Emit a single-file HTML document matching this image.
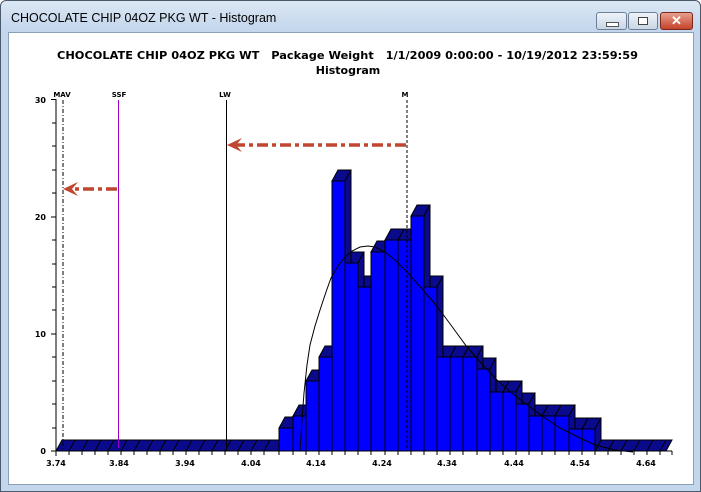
<!DOCTYPE html>
<html><head><meta charset="utf-8"><style>
body{margin:0;width:701px;height:492px;overflow:hidden;background:#fff;font-family:"Liberation Sans",sans-serif}
.win{position:absolute;left:0;top:0;width:699px;height:490px;border:1px solid #4a5a6a;border-radius:6px 6px 0 0;background:linear-gradient(#dbe7f4,#c3d6ec 30px,#c3d6ec)}
.client{position:absolute;left:7px;top:31px;width:686px;height:453px;background:#fff;border:1px solid #8aa0b8;box-sizing:border-box}
.tt{position:absolute;left:10px;top:10px;font-size:12.5px;color:#000}
.btn{position:absolute;top:11px;height:16px;border:1px solid #6d7f95;border-radius:3px;background:linear-gradient(#eef3f9,#c9d6e6)}
</style></head><body>
<div class="win">
<div class="tt">CHOCOLATE CHIP 04OZ PKG WT - Histogram</div>
<div class="btn" style="left:595px;width:29px"><div style="position:absolute;left:9px;top:9px;width:11px;height:3px;background:#fff;border:1px solid #555"></div></div>
<div class="btn" style="left:627px;width:28px"><div style="position:absolute;left:9px;top:4px;width:8px;height:6px;border:1px solid #444;background:#fff"></div></div>
<div class="btn" style="left:659px;width:31px;background:linear-gradient(#e8a090,#c4432a);border-color:#7a2a1a;color:#fff;font-weight:bold;font-size:13px;text-align:center;line-height:16px">✕</div>
<div class="client"></div>
</div>
<svg style="position:absolute;left:0;top:0" width="701" height="492" font-family="DejaVu Sans, sans-serif">
<text x="57" y="59" font-size="11" font-weight="bold" textLength="581" lengthAdjust="spacingAndGlyphs" xml:space="preserve">CHOCOLATE CHIP 04OZ PKG WT   Package Weight   1/1/2009 0:00:00 - 10/19/2012 23:59:59</text>
<text x="348" y="74" font-size="11" font-weight="bold" text-anchor="middle">Histogram</text>
<g font-size="7" font-weight="bold" text-anchor="middle">
<text x="62" y="97">MAV</text><text x="119" y="97">SSF</text><text x="225" y="97">LW</text><text x="405" y="97">M</text>
</g>
<g stroke="#000" stroke-width="1">
<polygon points="56,451 62,440 285,440 279,451" fill="#0a0a8c"/>
<path d="M69,451l6,-11M82,451l6,-11M95,451l6,-11M108,451l6,-11M121,451l6,-11M134,451l6,-11M147,451l6,-11M160,451l6,-11M173,451l6,-11M186,451l6,-11M199,451l6,-11M212,451l6,-11M225,451l6,-11M238,451l6,-11M251,451l6,-11M264,451l6,-11"/>
<polygon points="595,451 601,440 672,440 666,451" fill="#0a0a8c"/>
<path d="M608,451l6,-11M621,451l6,-11M634,451l6,-11M647,451l6,-11M660,451l6,-11"/>
<g fill="#0a0a8c">
<polygon points="582,429 588,418 601,418 595,429"/><polygon points="595,429 601,418 601,440 595,451"/>
<polygon points="569,429 575,418 588,418 582,429"/>
<polygon points="555,416 561,405 575,405 569,416"/><polygon points="569,416 575,405 575,440 569,451"/>
<polygon points="542,416 548,405 561,405 555,416"/>
<polygon points="529,416 535,405 548,405 542,416"/>
<polygon points="516,404 522,393 535,393 529,404"/><polygon points="529,404 535,393 535,440 529,451"/>
<polygon points="503,392 509,381 522,381 516,392"/><polygon points="516,392 522,381 522,440 516,451"/>
<polygon points="490,392 496,381 509,381 503,392"/>
<polygon points="477,369 483,358 496,358 490,369"/><polygon points="490,369 496,358 496,440 490,451"/>
<polygon points="463,357 469,346 483,346 477,357"/><polygon points="477,357 483,346 483,440 477,451"/>
<polygon points="450,357 456,346 469,346 463,357"/>
<polygon points="437,357 443,346 456,346 450,357"/>
<polygon points="424,287 430,276 443,276 437,287"/><polygon points="437,287 443,276 443,440 437,451"/>
<polygon points="411,216 417,205 430,205 424,216"/><polygon points="424,216 430,205 430,440 424,451"/>
<polygon points="398,240 404,229 417,229 411,240"/><polygon points="411,240 417,229 417,440 411,451"/>
<polygon points="385,240 391,229 404,229 398,240"/>
<polygon points="371,252 377,241 391,241 385,252"/><polygon points="385,252 391,241 391,440 385,451"/>
<polygon points="358,287 364,276 377,276 371,287"/><polygon points="371,287 377,276 377,440 371,451"/>
<polygon points="345,263 351,252 364,252 358,263"/><polygon points="358,263 364,252 364,440 358,451"/>
<polygon points="332,181 338,170 351,170 345,181"/><polygon points="345,181 351,170 351,440 345,451"/>
<polygon points="319,357 325,346 338,346 332,357"/><polygon points="332,357 338,346 338,440 332,451"/>
<polygon points="306,381 312,370 325,370 319,381"/><polygon points="319,381 325,370 325,440 319,451"/>
<polygon points="293,416 299,405 312,405 306,416"/><polygon points="306,416 312,405 312,440 306,451"/>
<polygon points="279,428 285,417 299,417 293,428"/><polygon points="293,428 299,417 299,440 293,451"/>
</g>
<g fill="#0000ff">
<rect x="279" y="428" width="14" height="23"/><rect x="293" y="416" width="13" height="35"/>
<rect x="306" y="381" width="13" height="70"/><rect x="319" y="357" width="13" height="94"/>
<rect x="332" y="181" width="13" height="270"/><rect x="345" y="263" width="13" height="188"/>
<rect x="358" y="287" width="13" height="164"/><rect x="371" y="252" width="14" height="199"/>
<rect x="385" y="240" width="13" height="211"/><rect x="398" y="240" width="13" height="211"/>
<rect x="411" y="216" width="13" height="235"/><rect x="424" y="287" width="13" height="164"/>
<rect x="437" y="357" width="13" height="94"/><rect x="450" y="357" width="13" height="94"/>
<rect x="463" y="357" width="14" height="94"/><rect x="477" y="369" width="13" height="82"/>
<rect x="490" y="392" width="13" height="59"/><rect x="503" y="392" width="13" height="59"/>
<rect x="516" y="404" width="13" height="47"/><rect x="529" y="416" width="13" height="35"/>
<rect x="542" y="416" width="13" height="35"/><rect x="555" y="416" width="14" height="35"/>
<rect x="569" y="429" width="13" height="22"/><rect x="582" y="429" width="13" height="22"/>
</g>
</g>
<polyline fill="none" stroke="#000" stroke-width="1" points="300,451 302,420 304,393 307,365 310,345 315,326 320,310 326,292 331,278 338,266 345,257 352,251 360,247 368,246 375,247 385,252 395,260 408,273 423,290 435,304 445,317 456,332 467,347 482,364 497,380 513,394 530,407 545,418 560,428 578,437 595,445 615,450 633,452"/>
<g stroke="#000">
<line x1="56" y1="99" x2="56" y2="452"/>
<path d="M51,99.5h5M52,123h4M52,146h4M52,170h4M52,193h4M51,217h5M52,240h4M52,264h4M52,287h4M52,310h4M51,334h5M52,357h4M52,381h4M52,404h4M52,428h4M51,451h5"/>
<line x1="56" y1="451" x2="672" y2="451"/>
<path d="M56,451v5M69,451v4M82,451v4M95,451v4M108,451v4M121,451v4M134,451v4M147,451v4M160,451v4M173,451v4M186,451v4M199,451v4M212,451v4M225,451v4M238,451v4M251,451v4M264,451v4M279,451v4M293,451v4M306,451v4M319,451v4M332,451v4M345,451v4M358,451v4M371,451v4M385,451v4M398,451v4M411,451v4M424,451v4M437,451v4M450,451v4M463,451v4M477,451v4M490,451v4M503,451v4M516,451v4M529,451v4M542,451v4M555,451v4M569,451v4M582,451v4M595,451v4M608,451v4M621,451v4M634,451v4M647,451v4M660,451v4M672,451v4"/>
</g>
<g font-size="8" font-weight="bold" text-anchor="end">
<text x="46" y="103">30</text><text x="46" y="220">20</text><text x="46" y="337">10</text><text x="46" y="454">0</text>
</g>
<g font-size="8" font-weight="bold" text-anchor="middle">
<text x="56" y="466">3.74</text><text x="119" y="466">3.84</text><text x="185" y="466">3.94</text><text x="251" y="466">4.04</text><text x="316" y="466">4.14</text><text x="382" y="466">4.24</text><text x="447" y="466">4.34</text><text x="514" y="466">4.44</text><text x="580" y="466">4.54</text><text x="646" y="466">4.64</text>
</g>
<line x1="63" y1="100" x2="63" y2="451" stroke="#000" stroke-dasharray="4,2,1,2"/>
<line x1="118.5" y1="100" x2="118.5" y2="448" stroke="#9900cc"/>
<line x1="226.5" y1="100" x2="226.5" y2="451" stroke="#000"/>
<line x1="407" y1="100" x2="407" y2="451" stroke="#000" stroke-dasharray="3,2"/>
<g stroke="#c0462f" stroke-width="3.5" fill="none">
<line x1="406" y1="145" x2="232" y2="145" stroke-dasharray="11,4,4,4"/>
<line x1="117" y1="189" x2="72" y2="189" stroke-dasharray="11,4,4,4"/>
</g>
<g fill="#c0462f">
<polygon points="227,145 242,138 236,145 242,152"/>
<polygon points="63,189 78,182 72,189 78,196"/>
</g>
</svg>
</body></html>
